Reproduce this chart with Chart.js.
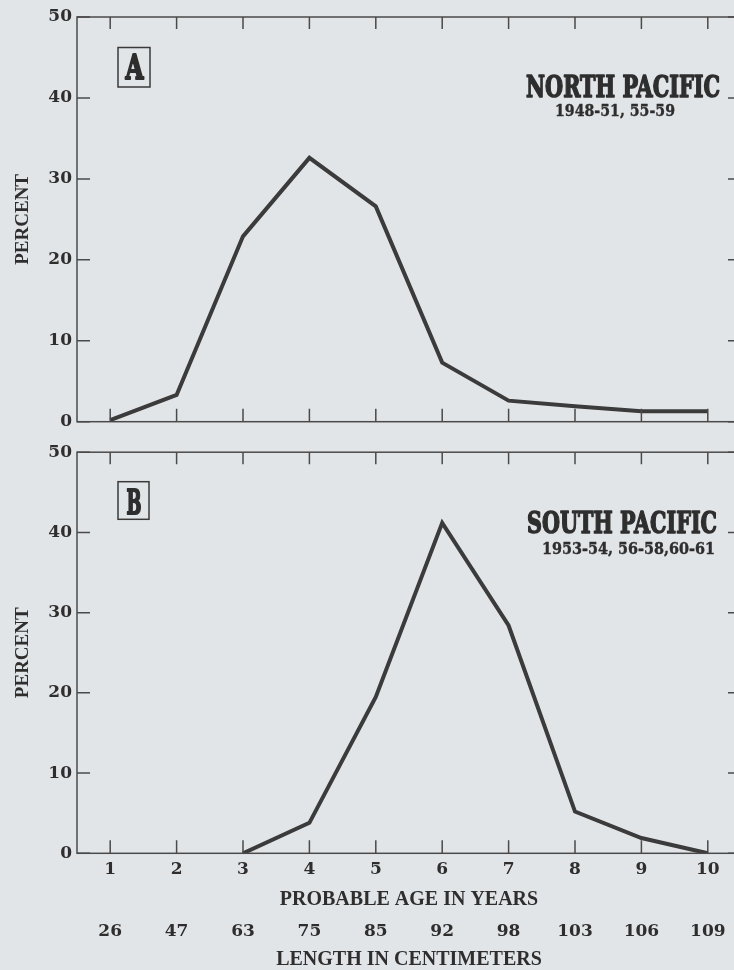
<!DOCTYPE html>
<html>
<head>
<meta charset="utf-8">
<script src="https://cdn.jsdelivr.net/npm/chart.js@4/dist/chart.umd.min.js"></script>
<style>
  html, body { margin: 0; padding: 0; background: #e2e5e8; }
  #wrap { position: relative; width: 734px; height: 970px; overflow: hidden; }
  canvas { position: absolute; left: 0; }
  #north { top: 0; }
  #south { top: 437px; }
</style>
</head>
<body>
<div id="wrap">
  <canvas id="north" width="760" height="437"></canvas>
  <canvas id="south" width="760" height="535"></canvas>
</div>
<script>
// probable age (years) and matching length (cm)
const ageLabels = ["1", "2", "3", "4", "5", "6", "7", "8", "9", "10"];
const lengthLabels = ["26", "47", "63", "75", "85", "92", "98", "103", "106", "109"];
const percentTicks = [0, 10, 20, 30, 40, 50];

// percent of catch at each age
const northPacific = [0.2, 3.3, 22.9, 32.6, 26.6, 7.3, 2.6, 1.9, 1.3, 1.3];
const southPacific = [null, null, 0, 3.8, 19.5, 41.2, 28.4, 5.2, 1.9, 0];

const ink = "#2e2e2e";
const lineColor = "#3b3b3b";
const tickFont = { family: '"DejaVu Serif"', size: 17, weight: "bold" };
const titleFont = { family: '"Liberation Serif"', size: 20, weight: "bold" };

// squeeze text into a given width (the original uses a heavy condensed type)
function fitText(ctx, text, x, y, width, font, align, heavy) {
  ctx.save();
  ctx.font = font;
  const w = ctx.measureText(text).width;
  ctx.translate(x, y);
  ctx.scale(width / w, 1);
  ctx.textAlign = align;
  ctx.textBaseline = "alphabetic";
  ctx.fillStyle = ink;
  ctx.fillText(text, 0, 0);
  if (heavy) {
    ctx.strokeStyle = ink;
    ctx.lineWidth = heavy;
    ctx.lineJoin = "round";
    ctx.strokeText(text, 0, 0);
  }
  ctx.restore();
}

// frame with inward tick marks on all four sides
const framePlugin = {
  id: "frame",
  afterDraw(chart) {
    const { ctx, chartArea: a, scales } = chart;
    ctx.save();
    ctx.strokeStyle = "#4a4a4a";
    ctx.lineWidth = 1.5;
    ctx.strokeRect(a.left, a.top, a.right - a.left, a.bottom - a.top);
    ctx.beginPath();
    ageLabels.forEach((lab, i) => {
      const px = scales.x.getPixelForValue(i);
      ctx.moveTo(px, a.bottom); ctx.lineTo(px, a.bottom - 13);
      ctx.moveTo(px, a.top); ctx.lineTo(px, a.top + 12);
    });
    percentTicks.forEach(v => {
      const py = scales.y.getPixelForValue(v);
      ctx.moveTo(a.left, py); ctx.lineTo(a.left + 13, py);
      ctx.moveTo(a.right, py); ctx.lineTo(a.right - 13, py);
    });
    ctx.stroke();
    ctx.restore();
  }
};

// panel letter box and region title
const panelTextPlugin = {
  id: "panelText",
  afterDraw(chart, args, o) {
    const ctx = chart.ctx;
    ctx.save();
    ctx.strokeStyle = "#3a3a3a";
    ctx.lineWidth = 1.5;
    ctx.strokeRect(o.box[0], o.box[1], o.box[2], o.box[3]);
    ctx.restore();
    fitText(ctx, o.letter, o.letterX, o.letterY, o.letterW, 'bold 34px "DejaVu Serif"', "center", 2);
    fitText(ctx, o.title, o.titleX, o.titleY, o.titleW, 'bold 30px "DejaVu Serif"', "right", 1.6);
    fitText(ctx, o.sub, o.subX, o.subY, o.subW, 'bold 16px "DejaVu Serif"', o.subAlign, 0.4);
  }
};

function yAxis() {
  return {
    min: 0,
    max: 50,
    grid: { display: false, drawTicks: false },
    border: { display: false },
    ticks: { stepSize: 10, padding: 5, font: tickFont, color: ink },
    title: { display: true, text: "PERCENT", font: { family: '"Liberation Serif"', size: 19, weight: "bold" }, color: ink, padding: { top: 12, bottom: 0 } },
    afterFit(s) { s.width = 77; }
  };
}

function lineDataset(values) {
  return {
    data: values,
    borderColor: lineColor,
    borderWidth: 4,
    pointRadius: 0,
    tension: 0,
    fill: false,
    borderJoinStyle: "miter"
  };
}

new Chart(document.getElementById("north"), {
  type: "line",
  data: { labels: ageLabels, datasets: [lineDataset(northPacific)] },
  options: {
    responsive: false,
    animation: false,
    layout: { padding: { left: 0, right: 19, top: 17, bottom: 15.3 } },
    plugins: {
      legend: { display: false },
      tooltip: { enabled: false },
      panelText: {
        box: [118, 47.5, 32, 39.5], letter: "A", letterX: 134.5, letterY: 79.3, letterW: 18,
        title: "NORTH PACIFIC", titleX: 720, titleY: 97.3, titleW: 194,
        sub: "1948-51, 55-59", subX: 615, subY: 116, subW: 120, subAlign: "center"
      }
    },
    scales: {
      x: {
        offset: true,
        grid: { display: false, drawTicks: false },
        border: { display: false },
        ticks: { display: false },
        afterFit(s) { s.height = 0; }
      },
      y: yAxis()
    }
  },
  plugins: [framePlugin, panelTextPlugin]
});

new Chart(document.getElementById("south"), {
  type: "line",
  data: { labels: ageLabels, datasets: [lineDataset(southPacific)] },
  options: {
    responsive: false,
    animation: false,
    layout: { padding: { left: 0, right: 19, top: 15, bottom: 0 } },
    plugins: {
      legend: { display: false },
      tooltip: { enabled: false },
      panelText: {
        box: [118, 44.7, 31, 37.6], letter: "B", letterX: 134, letterY: 76.5, letterW: 15,
        title: "SOUTH PACIFIC", titleX: 717, titleY: 95.7, titleW: 190,
        sub: "1953-54, 56-58,60-61", subX: 715, subY: 117, subW: 173, subAlign: "right"
      }
    },
    scales: {
      x: {
        offset: true,
        position: "bottom",
        grid: { display: false, drawTicks: false },
        border: { display: false },
        ticks: { padding: 6.5, font: tickFont, color: ink, autoSkip: false, maxRotation: 0 },
        title: { display: true, text: "PROBABLE AGE IN YEARS", font: titleFont, color: ink, padding: { top: 0, bottom: 3 } },
        afterFit(s) { s.height = 61.7; }
      },
      x2: {
        type: "category",
        labels: lengthLabels,
        offset: true,
        position: "bottom",
        grid: { display: false, drawTicks: false },
        border: { display: false },
        ticks: { padding: 6.5, font: tickFont, color: ink, autoSkip: false, maxRotation: 0 },
        title: { display: true, text: "LENGTH IN CENTIMETERS", font: titleFont, color: ink, padding: { top: 0, bottom: 0 } },
        afterFit(s) { s.height = 57; }
      },
      y: yAxis()
    }
  },
  plugins: [framePlugin, panelTextPlugin]
});
</script>
</body>
</html>
